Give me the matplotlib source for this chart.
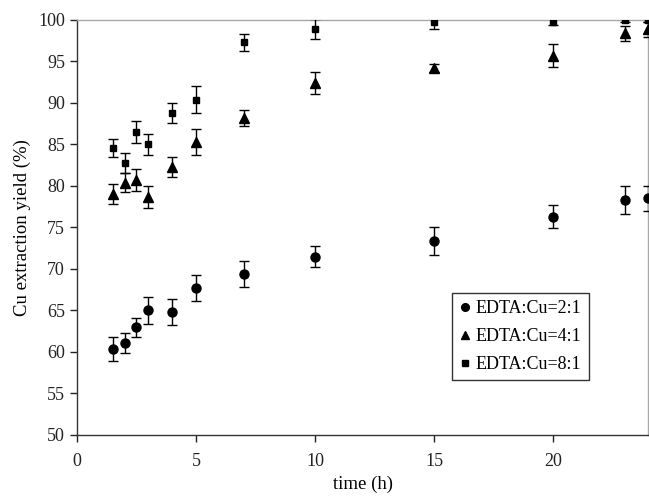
import matplotlib
matplotlib.use("Agg")
import matplotlib.pyplot as plt
from matplotlib.lines import Line2D

# time (h)
time_h = [1.5, 2, 2.5, 3, 4, 5, 7, 10, 15, 20, 23, 24]

# Cu extraction yield (%) and error bars
yield_2to1 = [60.4, 61.1, 63.0, 65.0, 64.8, 67.7, 69.4, 71.5, 73.4, 76.3, 78.3, 78.5]
err_2to1 = [1.45, 1.2, 1.15, 1.6, 1.55, 1.6, 1.55, 1.3, 1.7, 1.4, 1.7, 1.55]

yield_4to1 = [79.0, 80.4, 80.7, 78.7, 82.3, 85.3, 88.2, 92.4, 94.2, 95.7, 98.4, 98.9]
err_4to1 = [1.2, 1.15, 1.3, 1.3, 1.2, 1.6, 1.0, 1.3, 0.5, 1.4, 0.9, 0.9]

yield_8to1 = [84.6, 82.8, 86.5, 85.0, 88.8, 90.4, 97.3, 98.9, 99.7, 99.8, 100.0, 100.0]
err_8to1 = [1.1, 1.2, 1.3, 1.3, 1.25, 1.6, 1.0, 1.2, 0.8, 0.4, 0.3, 0.3]

labels = ["EDTA:Cu=2:1", "EDTA:Cu=4:1", "EDTA:Cu=8:1"]
x_ticks = [0, 5, 10, 15, 20]
y_ticks = [50, 55, 60, 65, 70, 75, 80, 85, 90, 95, 100]

plt.rcParams['font.family'] = ['Liberation Serif', 'DejaVu Serif']

fig = plt.figure(figsize=(6.49, 4.96), dpi=100)
ax = fig.add_axes([0.1185, 0.123, 0.8805, 0.8367])

series = [
    (yield_2to1, err_2to1, 'o', 6.5),
    (yield_4to1, err_4to1, '^', 7),
    (yield_8to1, err_8to1, 's', 5),
]
handles = []
for (vals, errs, marker, ms), label in zip(series, labels):
    ax.errorbar(time_h, vals, yerr=errs, fmt=marker, color='black', markersize=ms,
                ecolor='black', elinewidth=1, capsize=3.3, capthick=1, zorder=3)
    handles.append(Line2D([], [], linestyle='none', marker=marker, color='black',
                          markersize=ms * 0.85, label=label))

ax.set_xlim(0, 24)
ax.set_ylim(50, 100)
ax.set_xticks(x_ticks)
ax.set_yticks(y_ticks)
ax.tick_params(axis='both', direction='out', length=5, width=1, labelsize=13,
               colors='#222222')
ax.tick_params(axis='x', pad=8)

for side in ('left', 'bottom'):
    ax.spines[side].set_color('#333333')
    ax.spines[side].set_linewidth(1)
for side in ('top', 'right'):
    ax.spines[side].set_color('#a8a8a8')
    ax.spines[side].set_linewidth(1)

ax.set_xlabel("time (h)", fontsize=13.5, labelpad=4)
ax.set_ylabel("Cu extraction yield (%)", fontsize=13.5, labelpad=5)

leg = ax.legend(handles=handles, loc='upper left', bbox_to_anchor=(0.657, 0.342),
                fontsize=13, frameon=True, fancybox=False, handlelength=0.6,
                handletextpad=0.3, borderpad=0.4, labelspacing=0.6,
                borderaxespad=0, framealpha=1)
leg.get_frame().set_edgecolor('#333333')
leg.get_frame().set_linewidth(1)

fig.savefig("out.png", dpi=100)
